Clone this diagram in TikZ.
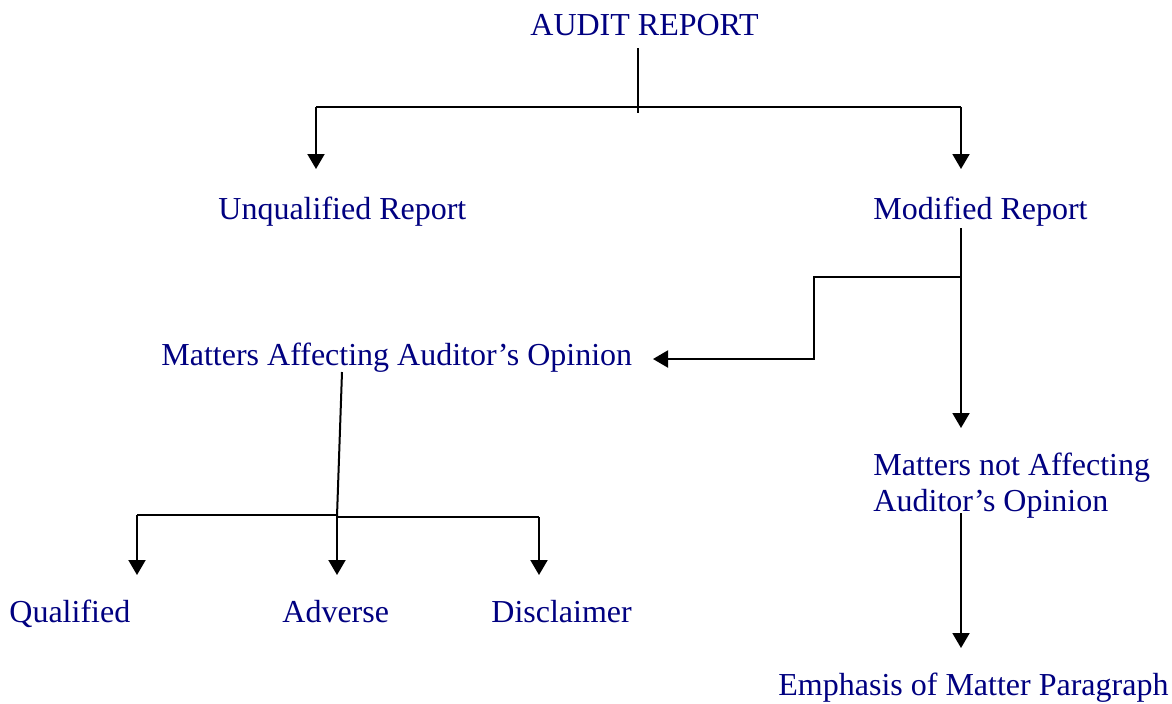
\documentclass[tikz,border=0pt]{standalone}
\usepackage{fontspec}
\setmainfont{Liberation Serif}
\usetikzlibrary{arrows.meta}
\definecolor{reportblue}{RGB}{0,0,128}

\begin{document}
\begin{tikzpicture}[
  x=0.5pt, y=-0.5pt,
  txt/.style={text=reportblue, font=\fontsize{16}{18}\selectfont, inner sep=0pt, anchor=base west},
  link/.style={line width=1pt},
  arr/.style={link, -{Triangle[width=8.5pt,length=7.5pt]}}
]
  \useasboundingbox (0,0) rectangle (1172,703);

  \node[txt] (audit) at (530,35) {AUDIT REPORT};
  \node[txt] (unqual) at (218,219) {Unqualified Report};
  \node[txt] (modified) at (873,219) {Modified Report};
  \node[txt] (affect) at (161,365) {Matters Affecting Auditor’s Opinion};
  \node[txt, align=left] (notaffect) at (873,511) {Matters not Affecting\\Auditor’s Opinion};
  \node[txt] (qualified) at (9,622) {Qualified};
  \node[txt] (adverse) at (282,622) {Adverse};
  \node[txt] (disclaimer) at (491,622) {Disclaimer};
  \node[txt] (emphasis) at (778,695) {Emphasis of Matter Paragraph};

  % first split
  \coordinate (top) at (638,48);
  \coordinate (lfork) at (316,107);
  \coordinate (rfork) at (961,107);
  \draw[link] (top) -- (638,113);
  \draw[link] (lfork) -- (rfork);
  \draw[arr] (lfork) -- (316,169);
  \draw[arr] (rfork) -- (961,169);

  % modified report
  \coordinate (modfoot) at (961,228);
  \coordinate (stepin) at (961,277);
  \draw[arr] (stepin) -| (814,359) -- (653,359);
  \draw[arr] (modfoot) -- (961,428);

  % matters affecting opinion
  \coordinate (afffoot) at (342,372);
  \coordinate (affjoin) at (337,516);
  \draw[link] (afffoot) -- (affjoin);
  \draw[link] (137,515) -- (337,515);
  \draw[link] (337,517) -- (539,517);
  \draw[arr] (137,515) -- (137,575);
  \draw[arr] (affjoin) -- (337,575);
  \draw[arr] (539,517) -- (539,575);

  % matters not affecting opinion
  \draw[arr] (961,513) -- (961,648);
\end{tikzpicture}
\end{document}
